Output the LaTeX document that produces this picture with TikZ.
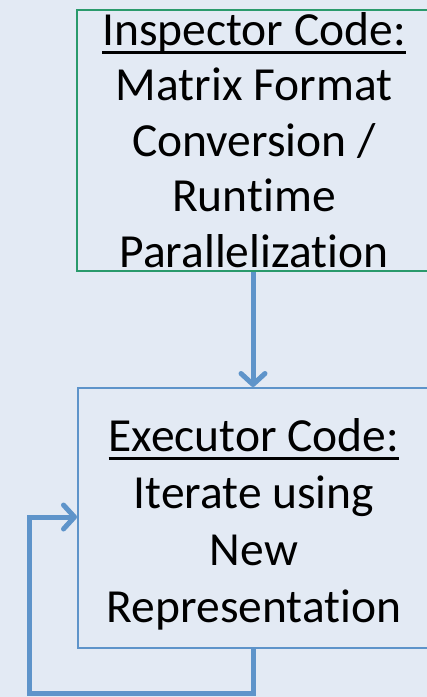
\documentclass[tikz,border=0pt]{standalone}
\usepackage{fontspec}
\setmainfont{Carlito}[Ligatures=NoCommon]
\usetikzlibrary{arrows.meta}
\definecolor{bgc}{HTML}{E3EAF4}
\definecolor{greenb}{HTML}{2A9A6C}
\definecolor{blueb}{HTML}{5E94CA}
\newcommand\ulx[1]{\setbox0\hbox{#1}\rlap{\rule[-8.5pt]{\wd0}{2.8pt}}\box0}
\tikzset{
  boxa/.style={draw=greenb, line width=2.4pt, inner sep=0pt},
  boxb/.style={draw=blueb, line width=2pt, inner sep=0pt},
  txt/.style={align=center, inner sep=0pt, anchor=base, font=\fontsize{47.5}{55.5}\selectfont},
  flow/.style={draw=blueb, line width=5pt, line join=miter, -{Straight Barb[length=11pt,width=24pt,line cap=round,line join=round]}}
}
\begin{document}
\begin{tikzpicture}[x=1pt,y=-1pt]
\fill[bgc] (0,0) rectangle (427,697);
\useasboundingbox (0,0) rectangle (427,697);
\node[boxa, minimum width=356pt, minimum height=261pt, anchor=north west] (insp) at (76,9) {};
\node[boxb, minimum width=356pt, minimum height=260pt, anchor=north west] (exec) at (77,387) {};
\node[txt] (insptext) at (254,267) {\ulx{Inspector Code:}\\Matrix Format\\Conversion /\\Runtime\\Parallelization};
\node[txt, font=\fontsize{47.5}{57}\selectfont] (exectext) at (254,622) {\ulx{Executor Code:}\\Iterate using\\New\\Representation};
\coordinate (c1) at (253,693);
\coordinate (c2) at (29,693);
\coordinate (c3) at (29,517);
\draw[flow] (insp.south -| 253,0) -- (exec.north -| 253,0);
\draw[flow] (exec.south -| 253,0) -- (c1) -- (c2) -- (c3) -- (exec.west |- c3);
\end{tikzpicture}
\end{document}
